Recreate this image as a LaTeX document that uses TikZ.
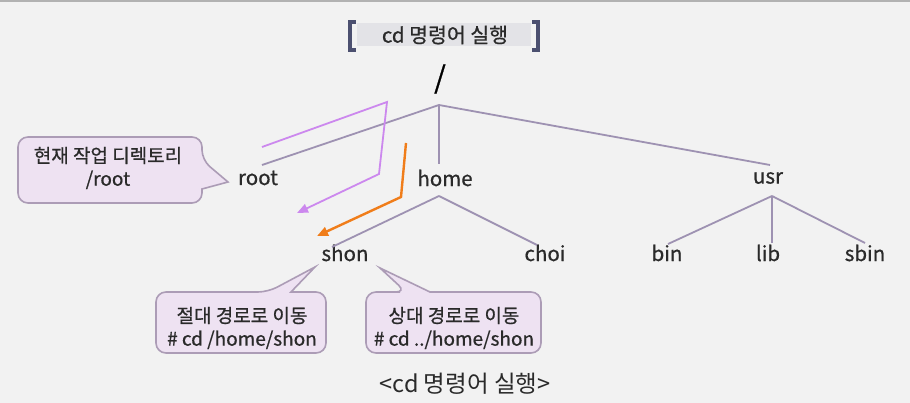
\documentclass[tikz,border=0pt]{standalone}
\usepackage{fontspec}
\setmainfont{Noto Sans CJK KR}
\newfontfamily\semib[FakeBold=0.7]{Noto Sans CJK KR}
\usetikzlibrary{arrows.meta}
\definecolor{bgc}{HTML}{F2F2F2}
\definecolor{treec}{HTML}{9E92B2}
\definecolor{purp}{HTML}{CC88EE}
\definecolor{orng}{HTML}{F07D1A}
\definecolor{callfill}{HTML}{EEE2F2}
\definecolor{calldraw}{HTML}{AC9CB6}
\definecolor{brk}{HTML}{4C5070}
\definecolor{txt}{HTML}{2A2A2A}
\definecolor{titlebox}{HTML}{E3E3E7}
\tikzset{
  lbl/.style={text=txt, font=\semib\fontsize{20.5}{22}\selectfont, inner sep=0pt},
  treeline/.style={draw=treec, line width=1.8pt},
  callout/.style={fill=callfill, draw=calldraw, line width=1.6pt},
  calltext/.style={text=txt, font=\semib\fontsize{19}{23}\selectfont, align=center, inner sep=0pt},
  parrow/.style={draw=purp, line width=1.8pt, -{Triangle[length=11pt,width=9pt]}},
  oarrow/.style={draw=orng, line width=2.4pt, -{Triangle[length=11pt,width=9pt]}}
}
\begin{document}
\begin{tikzpicture}[x=1pt,y=-1pt]
\useasboundingbox (0,0) rectangle (910,403);
\fill[bgc] (0,0) rectangle (910,403);
\draw[gray!60, line width=1.2pt] (0,1) -- (910,1);

% title
\fill[titlebox] (357,23) rectangle (531,46);
\draw[brk, line width=4.5pt] (356,22) -- (350,22) -- (350,50) -- (356,50);
\draw[brk, line width=4.5pt] (532,22) -- (538,22) -- (538,50) -- (532,50);
\node[text=txt, font=\semib\fontsize{20.5}{22}\selectfont, inner sep=0pt] (title) at (445,35) {cd 명령어 실행};

% tree labels
\node[text=black, font=\semib\fontsize{30}{32}\selectfont, inner sep=0pt] (slash) at (440,79) {/};
\node[lbl] (root) at (258,178) {root};
\node[lbl] (home) at (445,178) {home};
\node[lbl] (usr) at (768,178) {usr};
\node[lbl] (shon) at (345,253) {shon};
\node[lbl] (choi) at (545,253) {choi};
\node[lbl] (bin) at (667,253) {bin};
\node[lbl] (lib) at (768,253) {lib};
\node[lbl] (sbin) at (865,253) {sbin};

% junctions and line ends
\coordinate (j0) at (439,105);
\coordinate (jh) at (439,196);
\coordinate (ju) at (772,196);
\coordinate (eroot) at (262,165);
\coordinate (ehome) at (439,164);
\coordinate (eusr) at (770,165);
\coordinate (eshon) at (332,247);
\coordinate (echoi) at (537,245);
\coordinate (ebin) at (668,244);
\coordinate (elib) at (772,243);
\coordinate (esbin) at (865,243);

\draw[treeline] (j0) -- (eroot);
\draw[treeline] (j0) -- (ehome);
\draw[treeline] (j0) -- (eusr);
\draw[treeline] (jh) -- (eshon);
\draw[treeline] (jh) -- (echoi);
\draw[treeline] (ju) -- (ebin);
\draw[treeline] (ju) -- (elib);
\draw[treeline] (ju) -- (esbin);

% arrows
\coordinate (ps) at (262,147);
\coordinate (p1) at (387,102);
\coordinate (p2) at (379,174);
\coordinate (pt) at (297,213);
\draw[parrow] (ps) -- (p1) -- (p2) -- (pt);
\coordinate (os) at (406,143);
\coordinate (o1) at (401,197);
\coordinate (ot) at (317,236);
\draw[oarrow] (os) -- (o1) -- (ot);

% callout 1
\draw[callout] (110,137) [rounded corners=10pt] -- (202,137) -- (202,160) [sharp corners] -- (228,182) -- (202,189) [rounded corners=10pt] -- (202,203) -- (18,203) -- (18,137) -- cycle;
\node[calltext] (c1) at (108,168) {현재 작업 디렉토리\\/root};

% callout 2
\draw[callout] (200,292) [rounded corners=10pt] -- (268,292) [sharp corners] -- (315,267) -- (291,292) [rounded corners=10pt] -- (326,292) -- (326,353) -- (156,353) -- (156,292) -- cycle;
\node[calltext] (c2) at (242,328) {절대 경로로 이동\\\# cd /home/shon};

% callout 3
\draw[callout] (390,292) [rounded corners=10pt] -- (406,292) [sharp corners] -- (380,268) -- (430,292) [rounded corners=10pt] -- (541,292) -- (541,353) -- (366,353) -- (366,292) -- cycle;
\node[calltext] (c3) at (454,328) {상대 경로로 이동\\\# cd ../home/shon};

% caption
\node[text=txt, font=\fontsize{23.5}{25}\selectfont, inner sep=0pt] (cap) at (465,384) {<cd 명령어 실행>};
\end{tikzpicture}
\end{document}
